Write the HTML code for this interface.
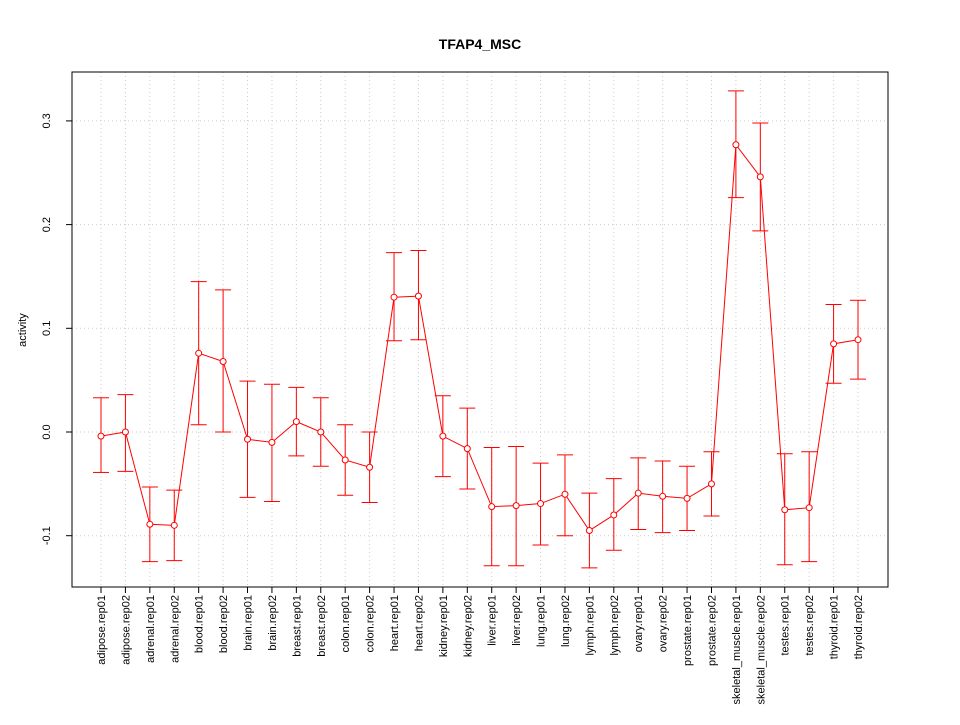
<!DOCTYPE html>
<html><head><meta charset="utf-8"><style>body{margin:0;background:#fff}svg{font-family:"Liberation Sans",sans-serif}</style></head>
<body>
<svg id="c" width="960" height="720"></svg>
<script>
const categories=["adipose.rep01","adipose.rep02","adrenal.rep01","adrenal.rep02","blood.rep01","blood.rep02","brain.rep01","brain.rep02","breast.rep01","breast.rep02","colon.rep01","colon.rep02","heart.rep01","heart.rep02","kidney.rep01","kidney.rep02","liver.rep01","liver.rep02","lung.rep01","lung.rep02","lymph.rep01","lymph.rep02","ovary.rep01","ovary.rep02","prostate.rep01","prostate.rep02","skeletal_muscle.rep01","skeletal_muscle.rep02","testes.rep01","testes.rep02","thyroid.rep01","thyroid.rep02"];
const values=[-0.004,0,-0.089,-0.090,0.076,0.068,-0.007,-0.010,0.010,0,-0.027,-0.034,0.130,0.131,-0.004,-0.016,-0.072,-0.071,-0.069,-0.060,-0.095,-0.080,-0.059,-0.062,-0.064,-0.050,0.277,0.246,-0.075,-0.073,0.085,0.089];
const upper=[0.033,0.036,-0.053,-0.056,0.145,0.137,0.049,0.046,0.043,0.033,0.007,0,0.173,0.175,0.035,0.023,-0.015,-0.014,-0.030,-0.022,-0.059,-0.045,-0.025,-0.028,-0.033,-0.019,0.329,0.298,-0.021,-0.019,0.123,0.127];
const lower=[-0.039,-0.038,-0.125,-0.124,0.007,0,-0.063,-0.067,-0.023,-0.033,-0.061,-0.068,0.088,0.089,-0.043,-0.055,-0.129,-0.129,-0.109,-0.100,-0.131,-0.114,-0.094,-0.097,-0.095,-0.081,0.226,0.194,-0.128,-0.125,0.047,0.051];
const yTicks=[-0.1,0,0.1,0.2,0.3];
const yTickLabels=["-0.1","0.0","0.1","0.2","0.3"];
const NS="http://www.w3.org/2000/svg",svg=document.getElementById('c');
const L=72,R=888,T=72,B=587;
const x=i=>101+i*(858-101)/(categories.length-1);
const y=v=>432-v*1037;
function mk(t,a,p){const e=document.createElementNS(NS,t);for(const k in a)e.setAttribute(k,a[k]);(p||svg).appendChild(e);return e;}
let e;
categories.forEach((c,i)=>{e=mk('line',{x1:x(i),x2:x(i),y1:T,y2:B,stroke:'#ccc','stroke-dasharray':'1,3'});
});
yTicks.forEach((v,i)=>{e=mk('line',{x1:L,x2:R,y1:y(v),y2:y(v),stroke:'#ccc','stroke-dasharray':'1,3'});

e=mk('line',{x1:L-6,x2:L,y1:y(v),y2:y(v),stroke:'#000'});

e=mk('text',{x:50,y:y(v),'font-size':11,'text-anchor':'middle',transform:`rotate(-90 50 ${y(v)})`});e.textContent=yTickLabels[i];
});
e=mk('rect',{x:L,y:T,width:R-L,height:B-T,fill:'none',stroke:'#000'});

categories.forEach((c,i)=>{e=mk('line',{x1:x(i),x2:x(i),y1:B,y2:B+6,stroke:'#000'});

e=mk('text',{x:x(i)+4,y:595,'font-size':11,'text-anchor':'end',transform:`rotate(-90 ${x(i)+4} 595)`});e.textContent=c;
});
e=mk('polyline',{points:values.map((v,i)=>x(i)+','+y(v)).join(' '),fill:'none',stroke:'#f00'});

values.forEach((v,i)=>{const g=mk('g',{stroke:'#f00',fill:'none'});

mk('line',{x1:x(i),x2:x(i),y1:y(upper[i]),y2:y(lower[i])},g);
mk('line',{x1:x(i)-8,x2:x(i)+8,y1:y(upper[i]),y2:y(upper[i])},g);
mk('line',{x1:x(i)-8,x2:x(i)+8,y1:y(lower[i]),y2:y(lower[i])},g);
e=mk('circle',{cx:x(i),cy:y(v),r:3,fill:'#fff',stroke:'#f00'});
});
e=mk('text',{x:480,y:49,'font-size':14,'font-weight':'bold','text-anchor':'middle'});e.textContent='TFAP4_MSC';

e=mk('text',{x:26,y:330,'font-size':11,'text-anchor':'middle',transform:'rotate(-90 26 330)'});e.textContent='activity';

</script>
</body></html>
